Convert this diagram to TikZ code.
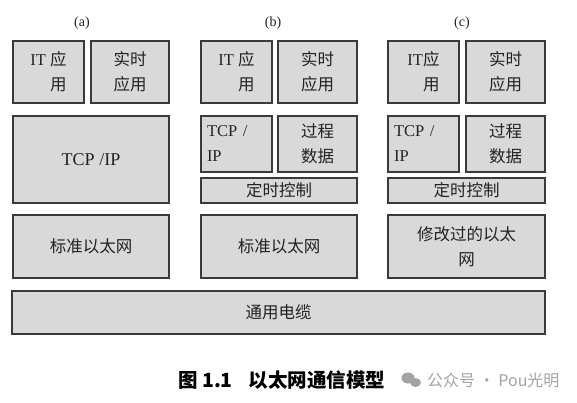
\documentclass[tikz,border=0pt]{standalone}
\usepackage{fontspec}
\setmainfont{Liberation Serif}
\newfontfamily\cjk{Noto Sans CJK SC}
\definecolor{boxfill}{HTML}{D9D9D9}
\definecolor{boxline}{HTML}{3A3A3A}
\definecolor{txt}{HTML}{222222}
\definecolor{wm}{HTML}{A3A3A3}
\begin{document}
\begin{tikzpicture}[x=1pt,y=-1pt,
  layer/.style={draw=boxline, fill=boxfill, line width=1.3pt, inner sep=0pt,
    text=txt, font=\fontsize{16.5}{25}\selectfont},
  tag/.style={inner sep=0pt, text=txt, font=\fontsize{14}{15}\selectfont},
]
\useasboundingbox (0,0) rectangle (577,402);
\fill[white] (0,0) rectangle (577,402);

% column labels
\node[tag] (la) at (82,23) {(a)};
\node[tag] (lb) at (273,23) {(b)};
\node[tag] (lc) at (462,23) {(c)};

% ---- column (a)
\node[layer, minimum width=71, minimum height=62, align=right] (ait) at (48.5,72) {IT {\cjk 应}\\{\cjk 用}};
\node[layer, minimum width=78, minimum height=62, align=center] (art) at (130,72) {{\cjk 实时}\\{\cjk 应用}};
\node[layer, minimum width=156, minimum height=87] (atcp) at (91,159.5) {\fontsize{18}{20}\selectfont TCP /IP};
\node[layer, minimum width=156, minimum height=63] (aeth) at (91,246.5) {\cjk 标准以太网};

% ---- column (b)
\node[layer, minimum width=71, minimum height=62, align=right] (bit) at (236.5,72) {IT {\cjk 应}\\{\cjk 用}};
\node[layer, minimum width=79, minimum height=62, align=center] (brt) at (317.5,72) {{\cjk 实时}\\{\cjk 应用}};
\node[layer, minimum width=71, minimum height=56, text width=59, align=left] (btcp) at (236.5,144) {TCP /\\IP};
\node[layer, minimum width=79, minimum height=56, align=center] (bpd) at (317.5,144) {{\cjk 过程}\\{\cjk 数据}};
\node[layer, minimum width=156, minimum height=25] (btc) at (279,190.5) {\cjk 定时控制};
\node[layer, minimum width=156, minimum height=63] (beth) at (279,246.5) {\cjk 标准以太网};

% ---- column (c)
\node[layer, minimum width=71, minimum height=62, align=right] (cit) at (423.5,72) {IT{\cjk 应}\\{\cjk 用}};
\node[layer, minimum width=79, minimum height=62, align=center] (crt) at (505.5,72) {{\cjk 实时}\\{\cjk 应用}};
\node[layer, minimum width=71, minimum height=56, text width=59, align=left] (ctcp) at (423.5,144) {TCP /\\IP};
\node[layer, minimum width=79, minimum height=56, align=center] (cpd) at (505.5,144) {{\cjk 过程}\\{\cjk 数据}};
\node[layer, minimum width=157, minimum height=25] (ctc) at (466.5,190.5) {\cjk 定时控制};
\node[layer, minimum width=157, minimum height=63, align=center] (ceth) at (466.5,246.5) {{\cjk 修改过的以太}\\{\cjk 网}};

% ---- common cable
\node[layer, minimum width=533, minimum height=43] (cable) at (278.5,312.5) {\cjk 通用电缆};

% ---- caption
\node[anchor=west, inner sep=0pt, text=black, font=\fontsize{19.5}{21}\selectfont\cjk\bfseries] (cap) at (178,380) {图 1.1\hspace{16pt}以太网通信模型};

% ---- watermark
\fill[wm] (408,378) ellipse [x radius=6.5, y radius=5.5];
\fill[wm] (415.5,382.5) ellipse [x radius=5.5, y radius=4.5];
\node[anchor=west, inner sep=0pt, text=wm, font=\fontsize{16}{18}\selectfont\cjk] (wmark) at (427,380) {公众号 · Pou光明};
\end{tikzpicture}
\end{document}
